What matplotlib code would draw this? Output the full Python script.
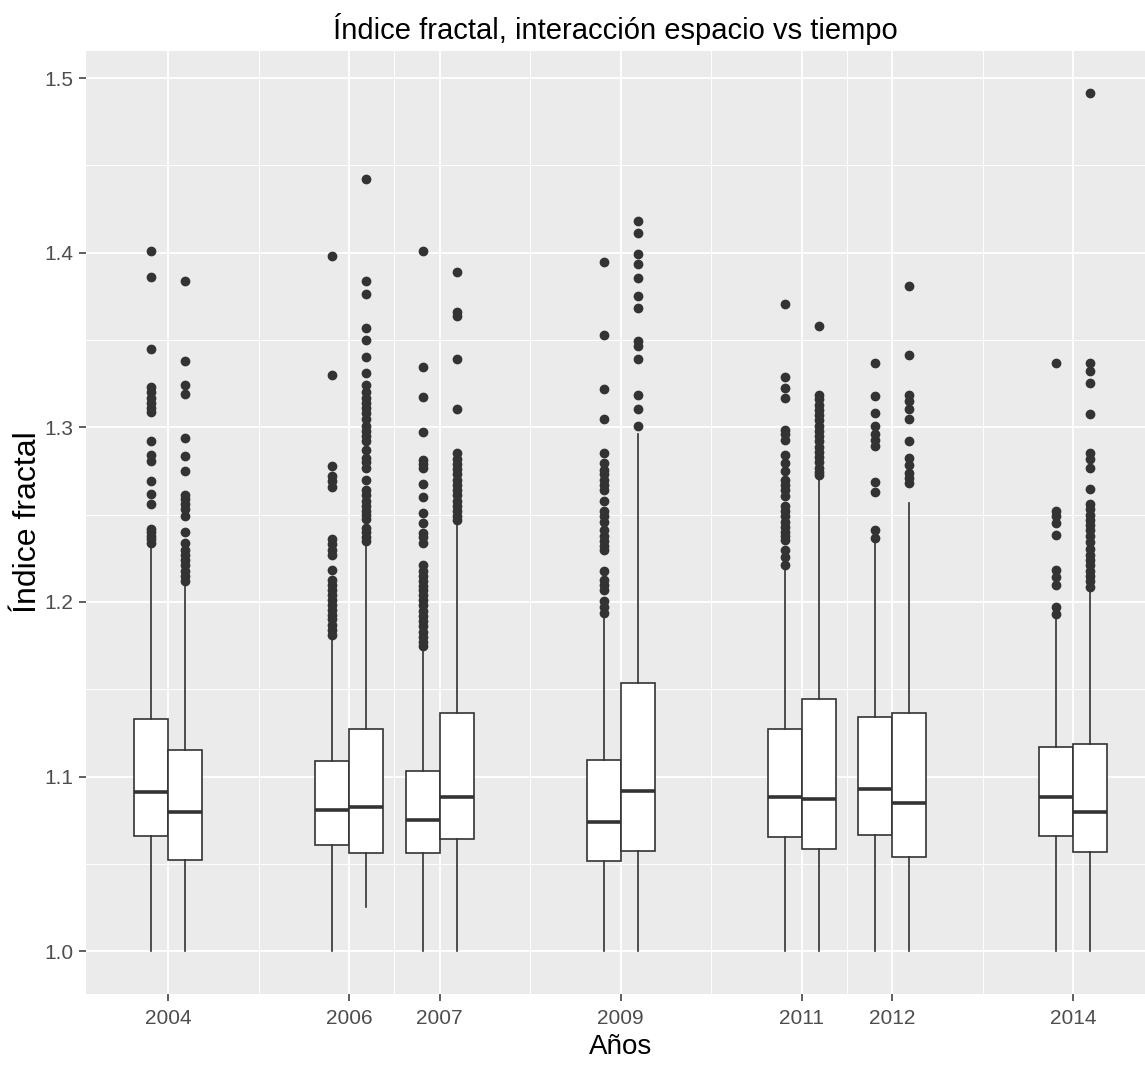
import matplotlib
matplotlib.use("Agg")
import matplotlib.pyplot as plt
import numpy as np

plt.rcParams["font.family"] = ["Liberation Sans Narrow", "Liberation Sans", "DejaVu Sans"]

years = [2004, 2006, 2007, 2009, 2011, 2012, 2014]

# first box of each year (left of the tick)
med_a = [1.091, 1.081, 1.0751, 1.0738, 1.0885, 1.0929, 1.0883]
q1_a = [1.066, 1.0606, 1.056, 1.0516, 1.0652, 1.0663, 1.0661]
q3_a = [1.133, 1.109, 1.1034, 1.1093, 1.1273, 1.1344, 1.1171]
lo_a = [1.0, 1.0, 1.0, 1.0, 1.0, 1.0, 1.0]
hi_a = [1.232, 1.180, 1.1736, 1.1927, 1.2185, 1.2347, 1.1908]
out_a = [
    [1.401, 1.386, 1.345, 1.323, 1.320, 1.317, 1.314, 1.311, 1.309, 1.292, 1.284,
     1.281, 1.269, 1.262, 1.256, 1.242, 1.240, 1.238, 1.236, 1.234],
    [1.398, 1.330, 1.278, 1.272, 1.269, 1.266, 1.236, 1.233, 1.230, 1.227, 1.2185,
     1.2127, 1.210, 1.207, 1.204, 1.201, 1.198, 1.1955, 1.1927, 1.190, 1.187,
     1.184, 1.1812],
    [1.401, 1.3347, 1.3175, 1.2974, 1.2815, 1.279, 1.2767, 1.2676, 1.260, 1.251,
     1.245, 1.2395, 1.237, 1.2338, 1.2213, 1.218, 1.215, 1.212, 1.209, 1.207,
     1.204, 1.201, 1.198, 1.195, 1.192, 1.189, 1.186, 1.183, 1.180, 1.177, 1.175],
    [1.3947, 1.3526, 1.322, 1.305, 1.2853, 1.2796, 1.2758, 1.273, 1.270, 1.267,
     1.2643, 1.2577, 1.2519, 1.249, 1.246, 1.2414, 1.2376, 1.235, 1.232, 1.230,
     1.2175, 1.2127, 1.210, 1.207, 1.2003, 1.197, 1.1936],
    [1.3708, 1.329, 1.3226, 1.3169, 1.2987, 1.296, 1.293, 1.2844, 1.2796, 1.2749,
     1.270, 1.267, 1.264, 1.2605, 1.2548, 1.252, 1.249, 1.246, 1.243, 1.240,
     1.238, 1.2357, 1.230, 1.226, 1.2213],
    [1.337, 1.3178, 1.3083, 1.301, 1.2959, 1.2925, 1.2892, 1.2687, 1.2628, 1.2414,
     1.2366],
    [1.3368, 1.2523, 1.249, 1.2455, 1.2384, 1.2185, 1.2145, 1.2099, 1.197, 1.193],
]

# second box of each year (right of the tick)
med_b = [1.0795, 1.0827, 1.0885, 1.0919, 1.0873, 1.085, 1.0795]
q1_b = [1.052, 1.056, 1.0642, 1.0572, 1.0583, 1.0541, 1.0569]
q3_b = [1.115, 1.1273, 1.1363, 1.1535, 1.1443, 1.1363, 1.1187]
lo_b = [1.0, 1.0254, 1.0, 1.0, 1.0, 1.0, 1.0]
hi_b = [1.210, 1.233, 1.244, 1.2959, 1.272, 1.2567, 1.208]
out_b = [
    [1.384, 1.338, 1.3245, 1.319, 1.294, 1.2835, 1.275, 1.2615, 1.259, 1.256,
     1.253, 1.249, 1.240, 1.234, 1.230, 1.227, 1.224, 1.221, 1.218, 1.215, 1.212],
    [1.442, 1.384, 1.3765, 1.357, 1.350, 1.340, 1.331, 1.3245, 1.320, 1.317,
     1.314, 1.311, 1.308, 1.3045, 1.3006, 1.298, 1.295, 1.292, 1.287, 1.2827,
     1.280, 1.277, 1.270, 1.264, 1.261, 1.258, 1.255, 1.252, 1.250, 1.2477,
     1.2423, 1.240, 1.237, 1.2347],
    [1.389, 1.366, 1.364, 1.339, 1.3106, 1.2854, 1.282, 1.279, 1.276, 1.273,
     1.270, 1.267, 1.264, 1.261, 1.258, 1.255, 1.252, 1.249, 1.247],
    [1.4184, 1.4113, 1.399, 1.3933, 1.3857, 1.3752, 1.3685, 1.3494, 1.3465,
     1.3389, 1.3188, 1.3106, 1.301],
    [1.358, 1.3188, 1.316, 1.313, 1.310, 1.307, 1.304, 1.301, 1.298, 1.295,
     1.292, 1.289, 1.286, 1.283, 1.280, 1.277, 1.2745, 1.2729],
    [1.381, 1.3412, 1.3188, 1.315, 1.3106, 1.305, 1.2924, 1.2824, 1.2787, 1.274,
     1.271, 1.268],
    [1.4917, 1.3368, 1.3322, 1.3253, 1.3076, 1.2854, 1.282, 1.2766, 1.2645,
     1.2562, 1.253, 1.250, 1.247, 1.244, 1.241, 1.238, 1.2345, 1.2305, 1.227,
     1.224, 1.221, 1.218, 1.215, 1.212, 1.2087],
]

y_ticks = [1.0, 1.1, 1.2, 1.3, 1.4, 1.5]

box_w = 0.375
dark = "#333333"


def make_stats(med, q1, q3, lo, hi, out):
    return [dict(med=m, q1=a, q3=b, whislo=l, whishi=h, fliers=np.array(f))
            for m, a, b, l, h, f in zip(med, q1, q3, lo, hi, out)]


fig = plt.figure(figsize=(11.45, 10.67), dpi=100)
ax = fig.add_axes([0.0748, 0.0684, 0.9347, 0.8838])
ax.set_facecolor("#EBEBEB")

style = dict(
    widths=box_w, patch_artist=True, showcaps=False, manage_ticks=False,
    boxprops=dict(facecolor="white", edgecolor=dark, linewidth=1.2),
    whiskerprops=dict(color=dark, linewidth=1.2),
    medianprops=dict(color=dark, linewidth=2.6, solid_capstyle="butt"),
    flierprops=dict(marker="o", markerfacecolor=dark, markeredgecolor=dark,
                    markersize=6, linestyle="none"),
)
yrs = np.array(years, dtype=float)
ax.bxp(make_stats(med_a, q1_a, q3_a, lo_a, hi_a, out_a), positions=yrs - box_w / 2, **style)
ax.bxp(make_stats(med_b, q1_b, q3_b, lo_b, hi_b, out_b), positions=yrs + box_w / 2, **style)

# ggplot-style limits: 5% expansion of the data range
x0, x1 = yrs.min() - box_w, yrs.max() + box_w
ax.set_xlim(x0 - 0.05 * (x1 - x0), x1 + 0.05 * (x1 - x0))
ax.set_ylim(0.9755, 1.5155)

ax.set_xticks(years)
ax.set_yticks(y_ticks)
ax.set_yticklabels([f"{v:.1f}" for v in y_ticks])
ax.set_xticks([(a + b) / 2 for a, b in zip(years[:-1], years[1:])], minor=True)
ax.set_yticks(np.arange(1.05, 1.5, 0.1), minor=True)

ax.grid(True, which="major", color="white", linewidth=1.3)
ax.grid(True, which="minor", color="white", linewidth=0.7)
ax.set_axisbelow(True)
for s in ax.spines.values():
    s.set_visible(False)

ax.tick_params(which="major", length=5, width=1.1, color=dark, labelcolor="#4D4D4D",
               labelsize=15)
ax.tick_params(axis="x", pad=6)
ax.tick_params(axis="y", pad=4)
ax.tick_params(which="minor", length=0)

ax.set_xlabel("Años", fontsize=20, color="black", labelpad=4)
ax.set_ylabel("Índice fractal", fontsize=23, color="black", labelpad=1)
ax.set_title("Índice fractal, interacción espacio vs tiempo", fontsize=21, pad=9,
             x=(615 - 85.7) / (1155.9 - 85.7))

fig.savefig("out.png", dpi=100)
